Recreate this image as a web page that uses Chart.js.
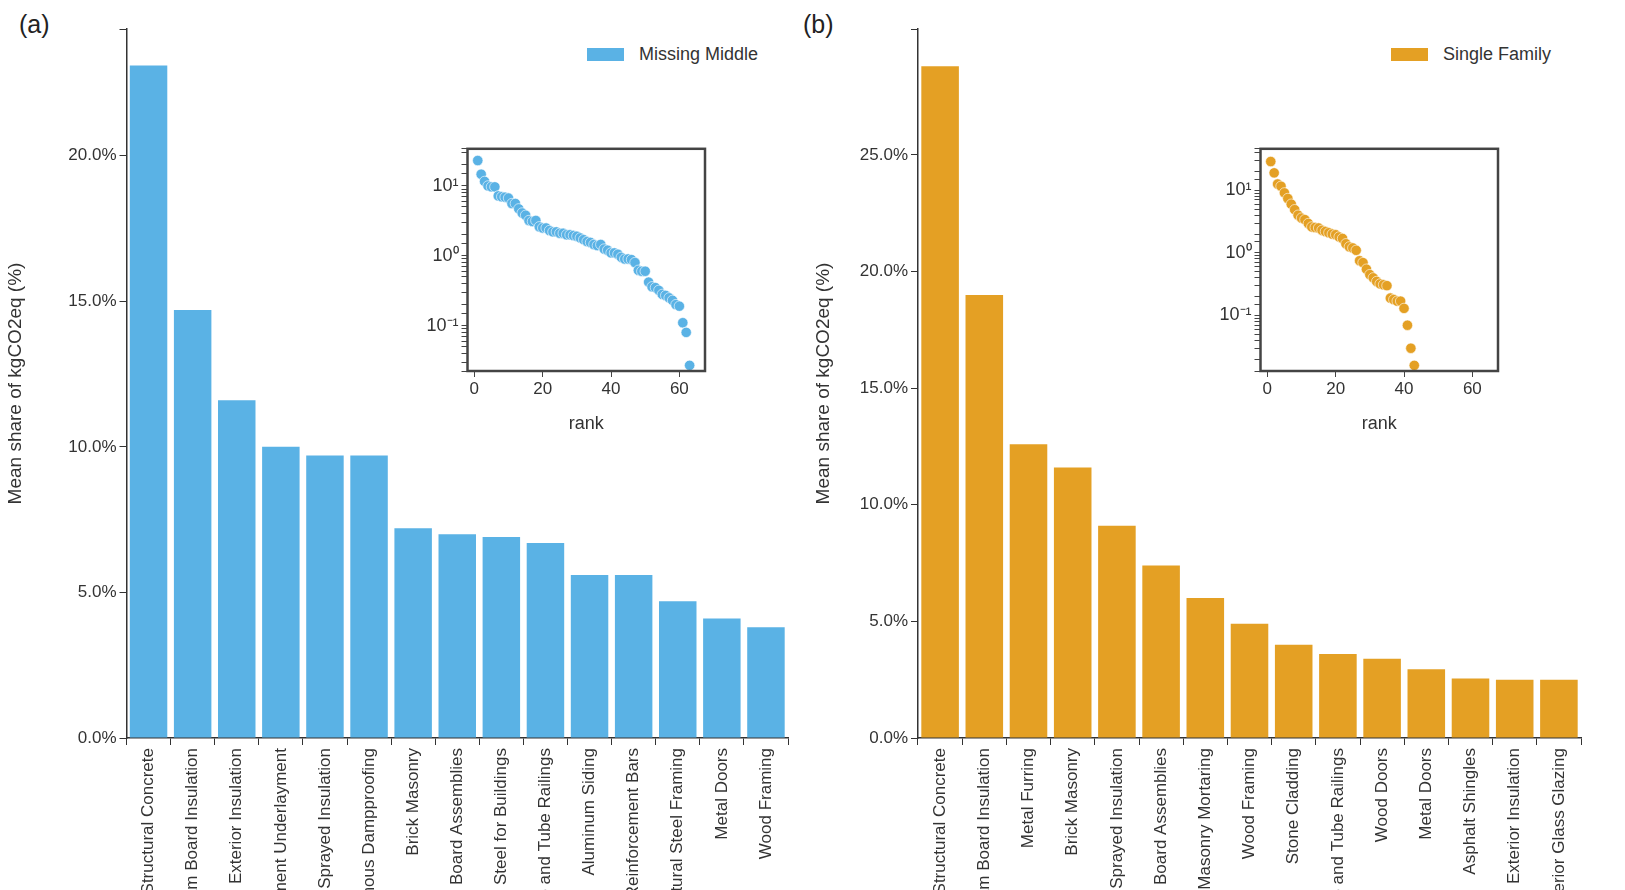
<!DOCTYPE html>
<html>
<head>
<meta charset="utf-8">
<script src="https://cdn.jsdelivr.net/npm/chart.js@4"></script>
<style>
  body { margin: 0; width: 1625px; height: 890px; overflow: hidden; background: #fff; font-family: Arial, "Liberation Sans", sans-serif; }
  canvas { position: absolute; }
  .lab { position: absolute; font-size: 25px; color: #222; }
  .leg { position: absolute; font-size: 18px; color: #333; display: flex; align-items: center; }
  .leg span { display: inline-block; width: 37px; height: 13px; margin-right: 15px; }
</style>
</head>
<body>
<div class="lab" style="left:19px;top:10px">(a)</div>
<div class="lab" style="left:803px;top:10px">(b)</div>
<div class="leg" style="left:587px;top:44px"><span style="background:#5ab2e5"></span>Missing Middle</div>
<div class="leg" style="left:1391px;top:44px"><span style="background:#e4a024"></span>Single Family</div>
<canvas id="mm"></canvas>
<canvas id="sf"></canvas>
<canvas id="mmIn"></canvas>
<canvas id="sfIn"></canvas>
<script>
const mmLabels = ["Structural Concrete", "Foam Board Insulation", "Exterior Insulation", "Cement Underlayment", "Sprayed Insulation", "Bituminous Dampproofing", "Brick Masonry", "Gypsum Board Assemblies", "Structural Steel for Buildings", "Pipe and Tube Railings", "Aluminum Siding", "Reinforcement Bars", "Structural Steel Framing", "Metal Doors", "Wood Framing"];
const mmValues = [23.1, 14.7, 11.6, 10.0, 9.7, 9.7, 7.2, 7.0, 6.9, 6.7, 5.6, 5.6, 4.7, 4.1, 3.8];
const sfLabels = ["Structural Concrete", "Foam Board Insulation", "Metal Furring", "Brick Masonry", "Sprayed Insulation", "Gypsum Board Assemblies", "Masonry Mortaring", "Wood Framing", "Stone Cladding", "Pipe and Tube Railings", "Wood Doors", "Metal Doors", "Asphalt Shingles", "Exterior Insulation", "Interior Glass Glazing"];
const sfValues = [28.8, 19.0, 12.6, 11.6, 9.1, 7.4, 6.0, 4.9, 4.0, 3.6, 3.4, 2.95, 2.55, 2.5, 2.5];
const mmRank = [23.1, 14.7, 11.6, 10.0, 9.7, 9.7, 7.2, 7.0, 6.9, 6.7, 5.6, 5.6, 4.7, 4.1, 3.8, 3.2, 3.1, 3.2, 2.6, 2.5, 2.5, 2.3, 2.2, 2.2, 2.1, 2.1, 2.0, 2.0, 1.95, 1.9, 1.8, 1.7, 1.6, 1.55, 1.45, 1.4, 1.45, 1.25, 1.2, 1.1, 1.1, 1.05, 0.95, 0.9, 0.9, 0.88, 0.8, 0.62, 0.6, 0.6, 0.42, 0.36, 0.35, 0.32, 0.28, 0.27, 0.25, 0.23, 0.2, 0.19, 0.11, 0.08, 0.027];
const sfRank = [28.8, 19.0, 12.6, 11.6, 9.1, 7.4, 6.0, 4.9, 4.0, 3.6, 3.4, 2.95, 2.6, 2.55, 2.5, 2.3, 2.2, 2.1, 2.0, 1.95, 1.8, 1.7, 1.4, 1.25, 1.2, 1.1, 0.75, 0.7, 0.55, 0.45, 0.4, 0.35, 0.32, 0.31, 0.3, 0.19, 0.18, 0.17, 0.17, 0.13, 0.07, 0.03, 0.016];
const rankTicks = [0, 20, 40, 60];

const INK = "#333";

function place(id, left, top, w, h) {
  const c = document.getElementById(id);
  c.style.left = left + "px"; c.style.top = top + "px";
  c.style.width = w + "px"; c.style.height = h + "px";
  c.width = w; c.height = h;
  return c;
}

function barChart(id, left, w, labels, values, color, yMax, yWidth) {
  const c = place(id, left, 0, w, 890);
  new Chart(c, {
    type: "bar",
    data: { labels, datasets: [{ data: values, backgroundColor: color, barPercentage: 0.85, categoryPercentage: 1 }] },
    options: {
      responsive: false, animation: false, devicePixelRatio: 1,
      layout: { padding: { top: 29, right: 20 } },
      plugins: { legend: { display: false }, tooltip: { enabled: false } },
      scales: {
        x: {
          grid: { drawOnChartArea: false, tickLength: 7, color: INK },
          border: { color: INK, width: 1.5 },
          ticks: { color: INK, font: { size: 17 }, minRotation: 90, maxRotation: 90, autoSkip: false },
          afterFit: (s) => { s.height = 890 - 738; }
        },
        y: {
          min: 0, max: yMax,
          grid: { drawOnChartArea: false, tickLength: 7, color: INK },
          border: { color: INK, width: 1.5 },
          ticks: { stepSize: 5, color: INK, font: { size: 17 }, callback: (v) => (Math.abs(v % 5) > 1e-6 ? "" : v.toFixed(1) + "%") },
          title: { display: true, text: "Mean share of kgCO2eq (%)", color: INK, font: { size: 19 } },
          afterFit: (s) => { s.width = yWidth; }
        }
      }
    }
  });
}

const boxPlugin = {
  id: "box",
  afterDraw(chart) {
    const a = chart.chartArea, ctx = chart.ctx;
    ctx.save(); ctx.strokeStyle = "#444"; ctx.lineWidth = 2.5;
    ctx.strokeRect(a.left, a.top, a.right - a.left, a.bottom - a.top);
    ctx.restore();
  }
};

function supLabel(v) {
  const e = Math.round(Math.log10(v));
  if (Math.abs(Math.log10(v) - e) > 1e-6) return "";
  const sup = { "-1": "⁻¹", "0": "⁰", "1": "¹" };
  return sup[e] !== undefined ? "10" + sup[e] : "";
}

function inset(id, left, values, color, yMin, yMax) {
  const c = place(id, left, 135, 322, 300);
  new Chart(c, {
    type: "scatter",
    data: { datasets: [{ data: values.map((v, i) => ({ x: i + 1, y: v })), backgroundColor: color, borderColor: "#fff", borderWidth: 0.6, pointRadius: 5.2 }] },
    options: {
      responsive: false, animation: false, devicePixelRatio: 1,
      layout: { padding: { top: 12, right: 12 } },
      plugins: { legend: { display: false }, tooltip: { enabled: false } },
      scales: {
        x: {
          min: -2, max: 67.5,
          afterBuildTicks: (s) => { s.ticks = rankTicks.map((v) => ({ value: v })); },
          grid: { drawOnChartArea: false, tickLength: 6, color: "#444" },
          border: { display: false },
          ticks: { color: INK, font: { size: 17 }, padding: 2 },
          title: { display: true, text: "rank", color: INK, font: { size: 18 }, padding: 0 },
          afterFit: (s) => { s.height = 300 - 12 - 224; }
        },
        y: {
          type: "logarithmic", min: yMin, max: yMax,
          grid: { drawOnChartArea: false, tickLength: 6, color: "#444" },
          border: { display: false },
          ticks: { color: INK, font: { size: 18 }, autoSkip: false, callback: (v) => supLabel(v) },
          afterFit: (s) => { s.width = 72.5; }
        }
      }
    },
    plugins: [boxPlugin]
  });
}

barChart("mm", 0, 808, mmLabels, mmValues, "#5ab2e5", 24.35, 126.5);
barChart("sf", 808, 793, sfLabels, sfValues, "#e4a024", 30.4, 110);
inset("mmIn", 395, mmRank, "#5ab2e5", 0.0224, 34);
inset("sfIn", 1187.5, sfRank, "#e4a024", 0.013, 46);
</script>
</body>
</html>
